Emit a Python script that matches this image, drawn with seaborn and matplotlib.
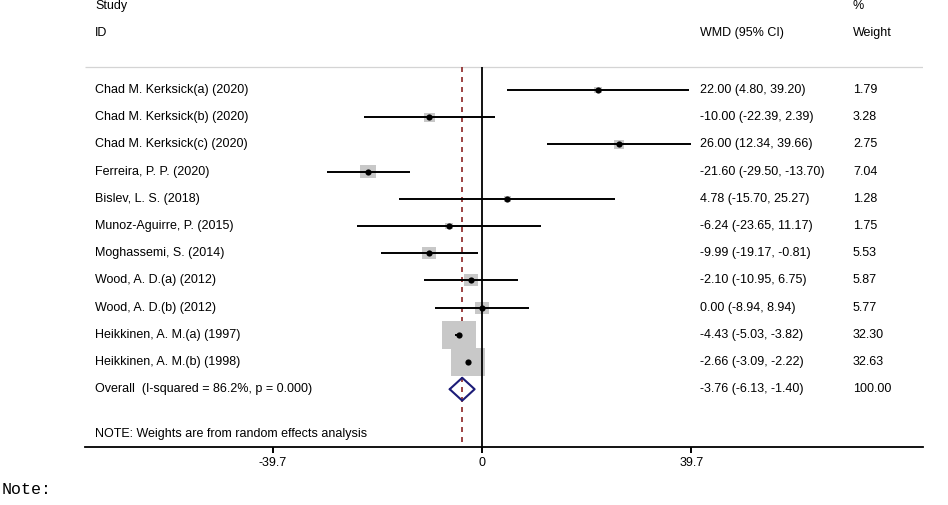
import matplotlib
matplotlib.use("Agg")
import matplotlib.pyplot as plt
from matplotlib.path import Path
import seaborn as sns
import numpy as np
import pandas as pd

studies = ["Chad M. Kerksick(a) (2020)", "Chad M. Kerksick(b) (2020)",
           "Chad M. Kerksick(c) (2020)", "Ferreira, P. P. (2020)",
           "Bislev, L. S. (2018)", "Munoz-Aguirre, P. (2015)",
           "Moghassemi, S. (2014)", "Wood, A. D.(a) (2012)",
           "Wood, A. D.(b) (2012)", "Heikkinen, A. M.(a) (1997)",
           "Heikkinen, A. M.(b) (1998)"]
wmd = [22.00, -10.00, 26.00, -21.60, 4.78, -6.24, -9.99, -2.10, 0.00, -4.43, -2.66]
ci_low = [4.80, -22.39, 12.34, -29.50, -15.70, -23.65, -19.17, -10.95, -8.94, -5.03, -3.09]
ci_high = [39.20, 2.39, 39.66, -13.70, 25.27, 11.17, -0.81, 6.75, 8.94, -3.82, -2.22]
weights = [1.79, 3.28, 2.75, 7.04, 1.28, 1.75, 5.53, 5.87, 5.77, 32.30, 32.63]
overall = [-3.76, -6.13, -1.40]
overall_weight = 100.00
i_squared = 86.2
p_value = 0.000
tick_values = [-39.7, 0, 39.7]

sns.set_theme(style="white")
plt.rcParams['font.family'] = ['Liberation Sans', 'DejaVu Sans']
plt.rcParams['text.color'] = 'black'
plt.rcParams['xtick.color'] = 'black'

W, H = 948, 505
fig = plt.figure(figsize=(W / 100, H / 100), dpi=100)

# pixel geometry
x_left_px, x_right_px = 85, 923
zero_px, unit_px = 482, 5.27
row0_px, row_px = 90, 27.2
axis_px = 447

def px2x(px):
    return (px - zero_px) / unit_px

def px2y(py):
    return (py - row0_px) / row_px

ax = fig.add_axes([x_left_px / W, (H - axis_px) / H, (x_right_px - x_left_px) / W, axis_px / H])
ax.patch.set_alpha(0)

rows = np.arange(len(studies))
df = pd.DataFrame({"study": studies, "wmd": wmd, "lo": ci_low, "hi": ci_high,
                   "weight": weights, "row": rows})

top_y = px2y(67)
bottom_y = px2y(axis_px)
ov_row = len(studies)

# header line
ax.hlines(top_y, px2x(x_left_px), px2x(x_right_px), color="#d4d4d4", lw=0.9, zorder=1)

# overall dashed line
ax.vlines(overall[0], top_y, bottom_y, color="#8b2323", lw=1.2, linestyles=(0, (3, 3)), zorder=1)

# weight boxes (area proportional to weight)
rect = Path([(-1.2, -1), (1.2, -1), (1.2, 1), (-1.2, 1), (-1.2, -1)],
            [Path.MOVETO, Path.LINETO, Path.LINETO, Path.LINETO, Path.CLOSEPOLY])
smax = 610
sns.scatterplot(data=df, x="wmd", y="row", size="weight", sizes=(0, smax),
                size_norm=(0, max(weights)), marker=rect, color="#c8c8c8",
                linewidth=0, legend=False, ax=ax, zorder=2)

# CI lines
ax.hlines(df["row"], df["lo"], df["hi"], color="black", lw=1.4, zorder=3)

# zero line
ax.vlines(0, top_y, bottom_y, color="black", lw=1.3, zorder=3)

# point estimates
sns.scatterplot(data=df, x="wmd", y="row", marker="o", s=20, color="black",
                linewidth=0, legend=False, ax=ax, zorder=4)

# overall diamond
dh = 0.42
dx = [overall[1], overall[0], overall[2], overall[0], overall[1]]
dy = [ov_row, ov_row - dh, ov_row, ov_row + dh, ov_row]
ax.plot(dx, dy, color="#1c1c78", lw=1.5, zorder=5)

ax.set_xlim(px2x(x_left_px), px2x(x_right_px))
ax.set_ylim(px2y(axis_px), px2y(0))
for s in ["top", "left", "right"]:
    ax.spines[s].set_visible(False)
ax.spines["bottom"].set_color("black")
ax.spines["bottom"].set_linewidth(1.3)
ax.set_yticks([])
ax.set_xticks(tick_values)
fs = 9.0
ax.set_xticklabels([f"{v:g}" for v in tick_values], fontsize=fs)
ax.tick_params(axis="x", direction="out", length=4, width=1.4, color="black",
               labelcolor="black", pad=3.5, bottom=True)
ax.set_xlabel("")
ax.set_ylabel("")

name_x = px2x(95)
wmd_x = px2x(700)
wt_x = px2x(853)

ax.text(name_x, px2y(6), "Study", fontsize=fs, va="center", ha="left", clip_on=False)
ax.text(name_x, px2y(33), "ID", fontsize=fs, va="center", ha="left", clip_on=False)
ax.text(wmd_x, px2y(33), "WMD (95% CI)", fontsize=fs, va="center", ha="left", clip_on=False)
ax.text(wt_x, px2y(6), "%", fontsize=fs, va="center", ha="left", clip_on=False)
ax.text(wt_x, px2y(33), "Weight", fontsize=fs, va="center", ha="left", clip_on=False)

for i, r in df.iterrows():
    ax.text(name_x, r["row"], r["study"], fontsize=fs, va="center", ha="left")
    ax.text(wmd_x, r["row"], f"{r['wmd']:.2f} ({r['lo']:.2f}, {r['hi']:.2f})",
            fontsize=fs, va="center", ha="left")
    ax.text(wt_x, r["row"], f"{r['weight']:.2f}", fontsize=fs, va="center", ha="left")

ax.text(name_x, ov_row, f"Overall  (I-squared = {i_squared:.1f}%, p = {p_value:.3f})",
        fontsize=fs, va="center", ha="left")
ax.text(wmd_x, ov_row, f"{overall[0]:.2f} ({overall[1]:.2f}, {overall[2]:.2f})",
        fontsize=fs, va="center", ha="left")
ax.text(wt_x, ov_row, f"{overall_weight:.2f}", fontsize=fs, va="center", ha="left")
ax.text(name_x, px2y(434), "NOTE: Weights are from random effects analysis",
        fontsize=fs, va="center", ha="left")

fig.text(2 / W, 1 - 489 / H, "Note:", fontsize=12, family=["Liberation Mono", "DejaVu Sans Mono"],
         va="center", ha="left")

fig.savefig("out.png", dpi=100)
